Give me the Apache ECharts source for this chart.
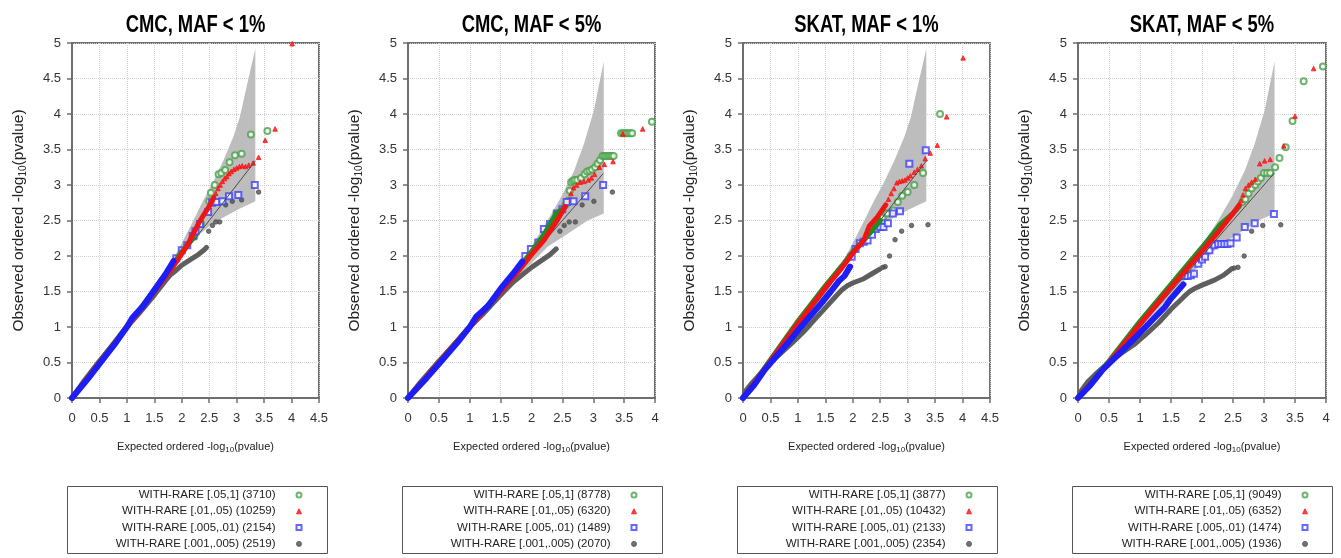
<!DOCTYPE html>
<html><head><meta charset="utf-8">
<script src="https://cdn.jsdelivr.net/npm/echarts@6/dist/echarts.min.js"></script>
<style>html,body{margin:0;padding:0;background:#fff}#c{width:1341px;height:558px}</style>
</head><body><div id="c"></div>
<script>
// ---------------- DATA ----------------
const panelTitles = ['CMC, MAF < 1%', 'CMC, MAF < 5%', 'SKAT, MAF < 1%', 'SKAT, MAF < 5%'];
const xMaxes = [4.5, 4, 4.5, 4];
const xAxisName = 'Expected ordered -log{sub|10}(pvalue)';
const yAxisName = 'Observed ordered -log{sub|10}(pvalue)';

const legendNames1 = ['WITH-RARE [.05,1] (3710)', 'WITH-RARE [.01,.05) (10259)', 'WITH-RARE [.005,.01) (2154)', 'WITH-RARE [.001,.005) (2519)'];
const legendNames2 = ['WITH-RARE [.05,1] (8778)', 'WITH-RARE [.01,.05) (6320)', 'WITH-RARE [.005,.01) (1489)', 'WITH-RARE [.001,.005) (2070)'];
const legendNames3 = ['WITH-RARE [.05,1] (3877)', 'WITH-RARE [.01,.05) (10432)', 'WITH-RARE [.005,.01) (2133)', 'WITH-RARE [.001,.005) (2354)'];
const legendNames4 = ['WITH-RARE [.05,1] (9049)', 'WITH-RARE [.01,.05) (6352)', 'WITH-RARE [.005,.01) (1474)', 'WITH-RARE [.001,.005) (1936)'];

// confidence bands (upper / lower edges) and end of expected line
const bandUpperA = [[0,0],[1.0,1.02],[1.5,1.55],[1.7,1.77],[1.85,1.97],[2.0,2.18],[2.21,2.5],[2.39,2.78],[2.57,3.04],[2.76,3.35],[2.94,3.68],[3.06,3.96],[3.18,4.38],[3.34,4.92]];
const bandLowerA = [[0,0],[1.0,0.98],[1.5,1.45],[1.85,1.89],[2.09,2.1],[2.33,2.31],[2.57,2.46],[2.82,2.57],[3.06,2.67],[3.34,2.77]];
const bandUpperB = [[0,0],[1.0,1.02],[1.5,1.55],[1.75,1.85],[1.99,2.12],[2.26,2.5],[2.48,2.83],[2.69,3.2],[2.85,3.58],[3.01,4.05],[3.17,4.74]];
const bandLowerB = [[0,0],[1.0,0.98],[1.5,1.45],[1.72,1.66],[1.99,1.89],[2.26,2.13],[2.58,2.31],[2.91,2.5],[3.17,2.6]];
const expectedEnds = [3.34, 3.16, 3.34, 3.17];

// ---- Panel 1: CMC, MAF < 1% ----
const p1GreenDense = [[0,0],[0.5,0.51],[1,1.01],[1.5,1.52],[1.8,1.84],[2.0,2.06],[2.2,2.25]];
const p1GreenTail = [[2.23,2.27],[2.35,2.45],[2.5,2.77],[2.53,2.89],[2.6,3.0],[2.67,3.15],[2.72,3.17],[2.79,3.21],[2.87,3.32],[2.97,3.42],[3.09,3.44],[3.26,3.71],[3.56,3.76]];
const p1RedDense = [[0,0],[0.5,0.5],[1,1],[1.5,1.5],[1.8,1.8],[2.0,2.03],[2.1,2.15],[2.2,2.3],[2.3,2.45],[2.4,2.58],[2.5,2.7],[2.58,2.82]];
const p1RedTail = [[2.62,2.88],[2.66,2.95],[2.7,3.0],[2.74,3.05],[2.78,3.09],[2.82,3.12],[2.86,3.16],[2.9,3.19],[2.95,3.22],[3.0,3.24],[3.05,3.26],[3.1,3.27],[3.16,3.26],[3.22,3.28],[3.3,3.31],[3.4,3.39],[3.52,3.63],[3.7,3.79],[4.01,4.99]];
const p1BlueDense = [[0,0],[0.3,0.28],[0.5,0.48],[0.8,0.78],[1.0,1.0],[1.1,1.13],[1.3,1.3],[1.5,1.52],[1.7,1.74],[1.85,1.93]];
const p1BlueTail = [[1.9,1.97],[2.0,2.08],[2.1,2.15],[2.2,2.28],[2.25,2.35],[2.33,2.45],[2.48,2.62],[2.55,2.75],[2.63,2.76],[2.74,2.77],[2.86,2.84],[3.03,2.86],[3.33,3.0]];
const p1GrayDense = [[0,0],[0.2,0.22],[0.5,0.52],[0.8,0.8],[1,1],[1.2,1.17],[1.5,1.45],[1.7,1.65],[1.8,1.74],[1.9,1.8],[2.0,1.87],[2.1,1.92],[2.2,1.97],[2.3,2.02],[2.4,2.08],[2.45,2.12]];
const p1GrayTail = [[2.49,2.35],[2.56,2.43],[2.62,2.48],[2.69,2.48],[2.8,2.72],[2.92,2.77],[3.09,2.79],[3.4,2.9]];

// ---- Panel 2: CMC, MAF < 5% ----
const p2GreenDense = [[0,0],[0.5,0.51],[1,1.01],[1.5,1.52],[1.8,1.84],[2.0,2.06],[2.2,2.3],[2.4,2.6],[2.5,2.66]];
const p2GreenTail = [[2.55,2.72],[2.6,2.78],[2.62,2.92],[2.64,3.04],[2.67,3.06],[2.7,3.07],[2.74,3.07],[2.8,3.1],[2.86,3.15],[2.9,3.19],[2.94,3.2],[2.98,3.22],[3.03,3.25],[3.07,3.3],[3.11,3.35],[3.15,3.41],[3.18,3.41],[3.21,3.41],[3.24,3.41],[3.27,3.41],[3.3,3.41],[3.33,3.41],[3.45,3.73],[3.48,3.73],[3.51,3.73],[3.54,3.73],[3.57,3.73],[3.6,3.73],[3.63,3.73],[3.95,3.89]];
const p2RedDense = [[0,0],[0.5,0.5],[1,1],[1.5,1.5],[1.8,1.8],[2.0,2.02],[2.2,2.22],[2.4,2.48],[2.55,2.7]];
const p2RedTail = [[2.6,2.79],[2.64,2.88],[2.68,2.96],[2.73,3.0],[2.79,3.04],[2.85,3.05],[2.92,3.07],[2.97,3.1],[3.02,3.15],[3.1,3.25],[3.18,3.29],[3.32,3.33],[3.48,3.72],[3.8,3.79]];
const p2BlueDense = [[0,0],[0.3,0.28],[0.5,0.48],[0.8,0.78],[1.0,1.0],[1.1,1.14],[1.3,1.3],[1.5,1.54],[1.7,1.75],[1.85,1.92]];
const p2BlueTail = [[1.9,2.0],[1.99,2.1],[2.11,2.19],[2.2,2.38],[2.3,2.45],[2.41,2.6],[2.5,2.66],[2.57,2.76],[2.68,2.77],[2.87,2.84],[3.16,3.0]];
const p2GrayDense = [[0,0],[0.2,0.22],[0.5,0.52],[0.8,0.8],[1,1],[1.2,1.17],[1.5,1.45],[1.7,1.63],[1.8,1.7],[1.9,1.77],[2.0,1.84],[2.1,1.9],[2.2,1.96],[2.3,2.02],[2.4,2.1]];
const p2GrayTail = [[2.46,2.35],[2.53,2.43],[2.61,2.48],[2.71,2.48],[2.82,2.72],[3.01,2.77],[3.31,2.9]];

// ---- Panel 3: SKAT, MAF < 1% ----
const p3GreenDense = [[0,0],[0.3,0.32],[0.5,0.54],[1,1.08],[1.5,1.58],[1.8,1.86],[2.0,2.06],[2.2,2.22],[2.4,2.4],[2.5,2.5]];
const p3GreenTail = [[2.55,2.55],[2.6,2.6],[2.63,2.6],[2.74,2.64],[2.82,2.76],[2.9,2.85],[3.0,2.9],[3.12,3.0],[3.28,3.17],[3.59,4.0]];
const p3RedDense = [[0,0],[0.3,0.31],[0.5,0.52],[1,1.05],[1.5,1.55],[1.8,1.83],[2.0,2.04],[2.2,2.22],[2.3,2.42],[2.45,2.55],[2.6,2.72]];
const p3RedTail = [[2.65,2.8],[2.7,2.88],[2.75,2.95],[2.8,3.03],[2.85,3.05],[2.9,3.06],[2.95,3.07],[3.0,3.1],[3.05,3.13],[3.12,3.18],[3.18,3.22],[3.25,3.27],[3.32,3.37],[3.41,3.45],[3.54,3.56],[3.71,3.96],[4.01,4.79]];
const p3BlueDense = [[0,0],[0.2,0.18],[0.4,0.4],[0.6,0.58],[0.8,0.76],[1.0,0.95],[1.2,1.13],[1.4,1.31],[1.6,1.5],[1.75,1.65],[1.85,1.72],[1.95,1.85]];
const p3BlueTail = [[1.98,1.99],[2.05,2.1],[2.13,2.18],[2.2,2.2],[2.27,2.22],[2.35,2.3],[2.42,2.38],[2.5,2.41],[2.56,2.41],[2.64,2.46],[2.73,2.6],[2.86,2.63],[3.03,3.3],[3.33,3.49]];
const p3GrayDense = [[0,0],[0.05,0.1],[0.15,0.2],[0.3,0.33],[0.5,0.5],[0.7,0.64],[0.9,0.78],[1.1,0.93],[1.3,1.1],[1.5,1.27],[1.7,1.44],[1.8,1.52],[1.9,1.58],[2.0,1.62],[2.2,1.68],[2.35,1.75],[2.5,1.82]];
const p3GrayTail = [[2.55,1.84],[2.59,1.85],[2.67,2.0],[2.77,2.23],[2.89,2.35],[3.07,2.43],[3.37,2.44]];

// ---- Panel 4: SKAT, MAF < 5% ----
const p4GreenDense = [[0,0],[0.3,0.32],[0.5,0.52],[1,1.08],[1.5,1.6],[2.0,2.12],[2.3,2.45],[2.5,2.6],[2.6,2.7]];
const p4GreenTail = [[2.65,2.76],[2.7,2.8],[2.75,2.88],[2.8,2.95],[2.86,3.0],[2.9,3.05],[2.95,3.1],[3.0,3.17],[3.05,3.17],[3.1,3.17],[3.18,3.25],[3.25,3.38],[3.35,3.53],[3.46,3.9],[3.64,4.46],[3.95,4.67]];
const p4RedDense = [[0,0],[0.3,0.3],[0.5,0.5],[1,1.04],[1.5,1.56],[2.0,2.07],[2.3,2.38],[2.5,2.6],[2.6,2.72]];
const p4RedTail = [[2.63,2.78],[2.66,2.86],[2.7,2.95],[2.75,3.0],[2.8,3.04],[2.86,3.08],[2.93,3.3],[3.01,3.34],[3.1,3.36],[3.32,3.55],[3.5,3.97],[3.8,4.64]];
const p4BlueDense = [[0,0],[0.2,0.18],[0.4,0.4],[0.6,0.57],[0.8,0.74],[1.0,0.92],[1.2,1.1],[1.4,1.28],[1.5,1.4],[1.6,1.5],[1.7,1.6]];
const p4BlueTail = [[1.72,1.72],[1.77,1.72],[1.82,1.73],[1.87,1.75],[1.94,1.89],[2.0,1.95],[2.05,1.99],[2.12,2.08],[2.2,2.15],[2.26,2.17],[2.31,2.17],[2.36,2.17],[2.41,2.17],[2.46,2.18],[2.56,2.26],[2.69,2.41],[2.85,2.46],[3.16,2.59]];
const p4GrayDense = [[0,0],[0.05,0.1],[0.15,0.22],[0.3,0.35],[0.5,0.5],[0.7,0.63],[0.9,0.75],[1.1,0.9],[1.3,1.06],[1.5,1.25],[1.7,1.42],[1.8,1.5],[1.9,1.55],[2.0,1.59],[2.2,1.66],[2.35,1.73],[2.45,1.8]];
const p4GrayTail = [[2.48,1.82],[2.52,1.83],[2.58,1.84],[2.68,2.0],[2.8,2.35],[2.98,2.43],[3.27,2.44]];

// ---------------- BUILD ----------------
const panels = [
  {names: legendNames1, upper: bandUpperA, lower: bandLowerA, dense: [p1GreenDense, p1RedDense, p1BlueDense, p1GrayDense], tail: [p1GreenTail, p1RedTail, p1BlueTail, p1GrayTail]},
  {names: legendNames2, upper: bandUpperB, lower: bandLowerB, dense: [p2GreenDense, p2RedDense, p2BlueDense, p2GrayDense], tail: [p2GreenTail, p2RedTail, p2BlueTail, p2GrayTail]},
  {names: legendNames3, upper: bandUpperA, lower: bandLowerA, dense: [p3GreenDense, p3RedDense, p3BlueDense, p3GrayDense], tail: [p3GreenTail, p3RedTail, p3BlueTail, p3GrayTail]},
  {names: legendNames4, upper: bandUpperB, lower: bandLowerB, dense: [p4GreenDense, p4RedDense, p4BlueDense, p4GrayDense], tail: [p4GreenTail, p4RedTail, p4BlueTail, p4GrayTail]}
];

const FONT = '"Liberation Sans", Arial, sans-serif';
const gridLeft = [72, 408, 743, 1078];
const gridWidth = [247, 247, 247, 248];
const gridTop = 43, gridHeight = 355;
const legendIconCenter = [300, 635, 970, 1306];
const boxLeft = [67, 402, 737, 1072];

// group styles: green circles, red triangles, blue squares, dark gray dots
const groupStyle = [
  {symbol: 'emptyCircle', size: 6, tailColor: '#4aa04a', denseColor: '#238b23', width: 5, legendIcon: 'emptyCircle'},
  {symbol: 'triangle', size: 4.5, tailColor: '#ff1010', denseColor: '#f01515', width: 5, legendIcon: 'triangle'},
  {symbol: 'emptyRect', size: 6, tailColor: '#4040ff', denseColor: '#1d1df5', width: 6, legendIcon: 'emptyRect'},
  {symbol: 'circle', size: 4.5, tailColor: '#505050', denseColor: '#5e5e5e', width: 5, legendIcon: 'circle'}
];
const drawOrder = [3, 0, 1, 2];

const grids = [], xAxes = [], yAxes = [], series = [], legends = [], graphics = [];
panels.forEach((p, i) => {
  grids.push({left: gridLeft[i], top: gridTop, width: gridWidth[i], height: gridHeight,
    show: true, borderColor: '#6e6e6e', borderWidth: 2, backgroundColor: '#fff'});
  xAxes.push({type: 'value', gridIndex: i, min: 0, max: xMaxes[i], interval: 0.5,
    name: xAxisName, nameLocation: 'middle', nameGap: 42,
    nameTextStyle: {fontSize: 11, fontFamily: FONT, color: '#222', rich: {sub: {fontSize: 8, padding: [6, 0, 0, 0], fontFamily: FONT, color: '#222'}}},
    axisLine: {show: true, lineStyle: {color: '#6e6e6e', width: 2}},
    axisTick: {show: true, length: 5, lineStyle: {color: '#6e6e6e', width: 1.5}},
    axisLabel: {margin: 14, fontSize: 13, fontFamily: FONT, color: '#333'},
    splitLine: {show: true, lineStyle: {color: '#d0d0d0', type: 'dotted', width: 1}}});
  yAxes.push({type: 'value', gridIndex: i, min: 0, max: 5, interval: 0.5,
    name: yAxisName, nameLocation: 'middle', nameGap: 44, nameRotate: 90,
    nameTextStyle: {fontSize: 15.5, fontFamily: FONT, color: '#222', rich: {sub: {fontSize: 10, padding: [8, 0, 0, 0], fontFamily: FONT, color: '#222'}}},
    axisLine: {show: true, lineStyle: {color: '#6e6e6e', width: 2}},
    axisTick: {show: true, length: 5, lineStyle: {color: '#6e6e6e', width: 1.5}},
    axisLabel: {margin: 11, fontSize: 13, fontFamily: FONT, color: '#333'},
    splitLine: {show: true, lineStyle: {color: '#d0d0d0', type: 'dotted', width: 1}}});

  // panel title (condensed bold)
  graphics.push({type: 'text', x: gridLeft[i] + gridWidth[i] / 2, y: 14, scaleX: 0.8, silent: true,
    style: {text: panelTitles[i], fontSize: 23, fontWeight: 'bold', fontFamily: FONT, fill: '#000',
      align: 'center', verticalAlign: 'top', textAlign: 'center', textVerticalAlign: 'top'}});

  // confidence band
  const up = p.upper, lo = p.lower;
  series.push({type: 'custom', name: 'band' + i, xAxisIndex: i, yAxisIndex: i, silent: true, data: [[0, 0]],
    renderItem: function (params, api) {
      const pts = up.map(q => api.coord(q)).concat(lo.slice().reverse().map(q => api.coord(q)));
      return {type: 'polygon', shape: {points: pts}, style: {fill: '#bdbdbd'}};
    }});
  // expected line
  series.push({type: 'line', name: 'expected' + i, xAxisIndex: i, yAxisIndex: i, silent: true, symbol: 'none',
    data: [[0, 0], [expectedEnds[i], expectedEnds[i]]], lineStyle: {color: '#4a4a4a', width: 1}});

  drawOrder.forEach(g => {
    const st = groupStyle[g];
    series.push({type: 'scatter', name: p.names[g], xAxisIndex: i, yAxisIndex: i, data: p.tail[g],
      symbol: st.symbol, symbolSize: st.size, color: st.tailColor,
      itemStyle: {color: st.tailColor, borderColor: st.tailColor, borderWidth: 1}});
    series.push({type: 'line', name: p.names[g], xAxisIndex: i, yAxisIndex: i, data: p.dense[g],
      symbol: 'none', color: st.tailColor, lineStyle: {color: st.denseColor, width: st.width, cap: 'round', join: 'round'}});
  });

  legends.push({orient: 'vertical', align: 'right', right: 1341 - (legendIconCenter[i] + 2.5), top: 488,
    itemWidth: 5, itemHeight: 5, itemGap: 2.3, padding: 0, selectedMode: false,
    itemStyle: {borderWidth: 1},
    textStyle: {fontSize: 11.5, lineHeight: 14, fontFamily: FONT, color: '#222', padding: [0, 16, 0, 0]},
    data: [0, 1, 2, 3].map(g => ({name: p.names[g], icon: groupStyle[g].legendIcon}))});

  graphics.push({type: 'rect', left: boxLeft[i], top: 486, silent: true, z: -1,
    shape: {width: 260, height: 67}, style: {fill: '#fff', stroke: '#555', lineWidth: 1}});
});

const chart = echarts.init(document.getElementById('c'), null, {renderer: 'canvas'});
chart.setOption({
  animation: false,
  backgroundColor: '#fff',
  grid: grids,
  xAxis: xAxes,
  yAxis: yAxes,
  legend: legends,
  graphic: graphics,
  series: series
});
</script></body></html>
